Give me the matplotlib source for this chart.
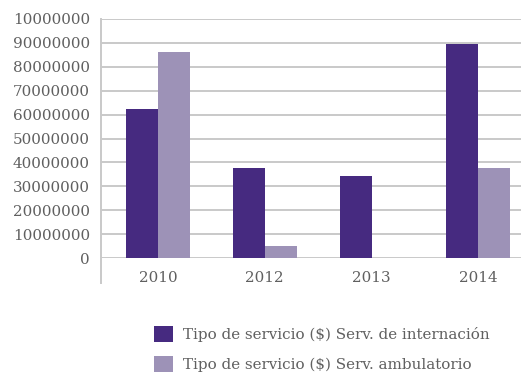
import matplotlib

matplotlib.use("Agg")
import matplotlib.pyplot as plt
import numpy as np

years = ["2010", "2012", "2013", "2014"]
internacion = [62500000, 37500000, 34500000, 89500000]
ambulatorio = [86000000, 5000000, 0, 37500000]
series_labels = [
    "Tipo de servicio ($) Serv. de internación",
    "Tipo de servicio ($) Serv. ambulatorio",
]
ytick_vals = [0, 10000000, 20000000, 30000000, 40000000, 50000000,
              60000000, 70000000, 80000000, 90000000, 100000000]
ytick_text = ["0", "10000000", "20000000", "30000000", "40000000", "50000000",
              "60000000", "70000000", "80000000", "90000000", "10000000"]

DARK = "#462a80"
LIGHT = "#9d92b7"
GRID = "#c9c9c9"
TEXT = "#606060"
FS = 10.9

plt.rcParams["font.family"] = ["DejaVu Serif"]

W, H = 521, 373
fig = plt.figure(figsize=(W / 100, H / 100), dpi=100)
fig.patch.set_facecolor("white")

x0, x1, y0, y1 = 101, 521, 258, 19
ax = fig.add_axes([x0 / W, 1 - y0 / H, (x1 - x0) / W, (y0 - y1) / H])

x = np.arange(len(years))
bw = 0.3
b1 = ax.bar(x - bw / 2, internacion, bw, color=DARK, zorder=3, label=series_labels[0])
b2 = ax.bar(x + bw / 2, ambulatorio, bw, color=LIGHT, zorder=3, label=series_labels[1])

# last category is cut off by the right edge
ax.set_xlim(-0.534, 3.40)
ax.set_ylim(0, 100000000)
ax.set_yticks(ytick_vals)
ax.set_yticklabels(ytick_text, fontsize=FS, color=TEXT)
ax.set_xticks(x)
ax.set_xticklabels(years, fontsize=FS, color=TEXT)
ax.tick_params(axis="both", length=0, pad=8)
ax.tick_params(axis="x", pad=9)

ax.yaxis.grid(True, color=GRID, lw=1.4, zorder=0)
ax.set_axisbelow(True)
for s in ("top", "right", "bottom"):
    ax.spines[s].set_visible(False)
ax.spines["left"].set_color(GRID)
ax.spines["left"].set_linewidth(1.4)
ax.spines["left"].set_bounds(-10500000, 100000000)
ax.spines["left"].set_clip_on(False)

fig.legend(
    handles=[b1, b2],
    labels=series_labels,
    loc="upper left",
    bbox_to_anchor=(154 / W, 1 - 326 / H),
    borderaxespad=0,
    borderpad=0,
    frameon=False,
    fontsize=FS,
    handlelength=1.27,
    handleheight=1.27,
    handletextpad=0.62,
    labelspacing=0.88,
    labelcolor=TEXT,
)

fig.savefig("out.png", dpi=100, facecolor="white")
